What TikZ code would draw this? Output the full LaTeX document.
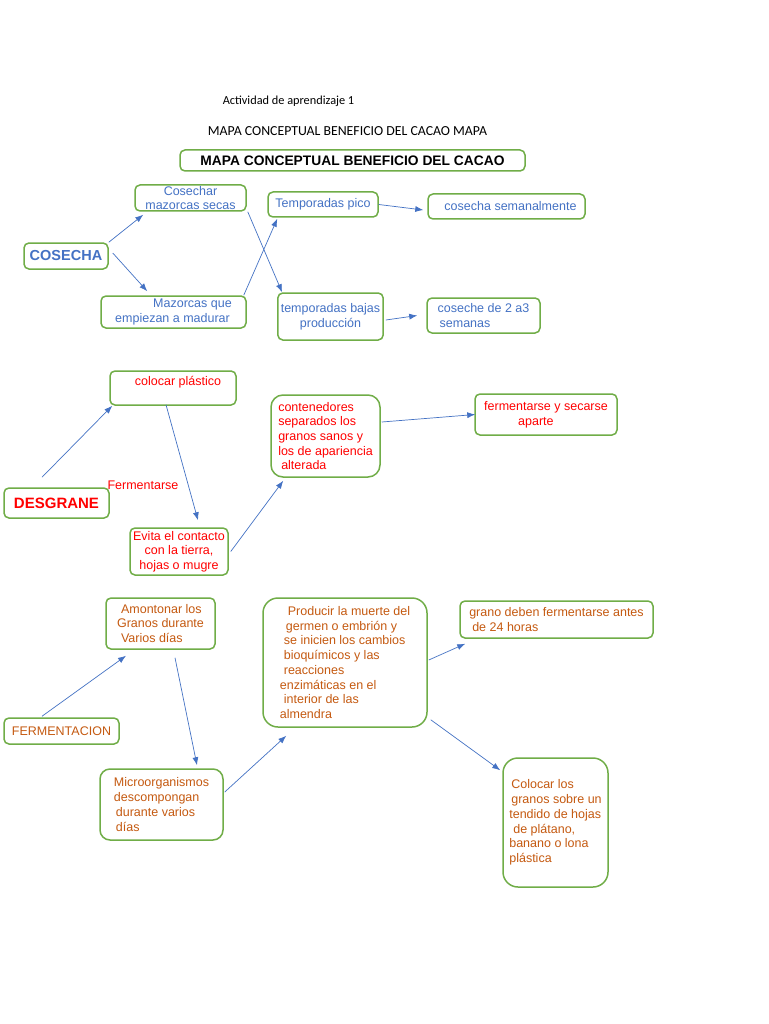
\documentclass[tikz,border=0pt]{standalone}
\usepackage{fontspec}
\setmainfont{Liberation Sans}
\newfontfamily\calibri{Carlito}
\usetikzlibrary{arrows.meta, positioning}

\definecolor{verde}{HTML}{70AD47}
\definecolor{azul}{HTML}{4472C4}
\definecolor{rojo}{HTML}{FF0000}
\definecolor{naranja}{HTML}{C55A11}

\newcommand{\fs}{\fontsize{12.5}{14.7}\selectfont}

\begin{document}
\begin{tikzpicture}[x=1pt, y=-1pt,
        concepto/.style={draw=verde, line width=1.5pt, rounded corners=5pt,
                         inner xsep=3pt, inner ysep=1pt, align=left, font=\fs},
        flecha/.style={-{Latex[length=8pt,width=6pt]}, azul, line width=0.7pt}
    ]
    \useasboundingbox[fill=white] (0,0) rectangle (768,1024);

    % encabezado
    \node[font=\calibri\fontsize{12.3}{14}\selectfont] (actividad) at (288.5,101) {Actividad de aprendizaje 1};
    \node[font=\calibri\fontsize{13.8}{16}\selectfont] (subtitulo) at (347.5,131) {MAPA CONCEPTUAL BENEFICIO DEL CACAO MAPA};
    \node[concepto, minimum width=345, minimum height=21, font=\fontsize{13.8}{15}\selectfont\bfseries] (titulo) at (352.5,160.5) {MAPA CONCEPTUAL BENEFICIO DEL CACAO};

    % cosecha
    \node[concepto, azul, draw=verde, minimum width=84, minimum height=26, font=\fontsize{14.5}{16}\selectfont\bfseries] (cosecha) at (66,256) {COSECHA};
    \node[concepto, text=azul, align=center, minimum width=111, minimum height=26, font=\fontsize{12.5}{14}\selectfont] (secas) at (190.5,198) {Cosechar\\mazorcas secas};
    \node[concepto, text=azul, minimum width=145, minimum height=32] (madurar) at (173.5,312) {\hspace*{38pt}Mazorcas que\\empiezan a madurar};
    \node[concepto, text=azul, minimum width=110, minimum height=25] (pico) at (323,204.5) {Temporadas pico};
    \node[concepto, text=azul, align=center, minimum width=105, minimum height=47] (bajas) at (330.5,316.5) {temporadas bajas\\producción};
    \node[concepto, text=azul, minimum width=157, minimum height=25] (semanal) at (506.5,206.5) {\hspace*{8pt}cosecha semanalmente};
    \node[concepto, text=azul, minimum width=113, minimum height=35] (semanas) at (483.5,315.5) {coseche de 2 a3\\\hspace*{2pt}semanas};

    \draw[flecha] (cosecha.north east) -- ([xshift=9pt,yshift=-3pt]secas.south west);
    \draw[flecha] ([xshift=4pt,yshift=3pt]cosecha.east) -- ([xshift=47pt,yshift=4pt]madurar.north west);
    \draw[flecha] ([xshift=1pt]secas.south east) -- ([xshift=5pt]bajas.north west);
    \draw[flecha] ([xshift=-3pt]madurar.north east) -- ([xshift=10pt,yshift=-1pt]pico.south west);
    \draw[flecha] (pico.east) -- ([xshift=-4pt,yshift=-3.5pt]semanal.west);
    \draw[flecha] ([xshift=2pt,yshift=-3.5pt]bajas.east) -- ([xshift=-9pt]semanas.west);

    % desgrane
    \node[concepto, text=rojo, minimum width=126, minimum height=34] (plastico) at (173,388) {\hspace*{10pt}colocar plástico\\\mbox{}};
    \node[concepto, text=rojo, minimum width=105, minimum height=30, font=\fontsize{15}{17}\selectfont\bfseries] (desgrane) at (56.5,503) {DESGRANE};
    \node[text=rojo, font=\fs, inner sep=0pt] (fermentarse) at (143,485) {Fermentarse};
    \node[concepto, text=rojo, align=center, minimum width=98, minimum height=47] (evita) at (179,551.5) {Evita el contacto\\con la tierra,\\hojas o mugre};
    \node[concepto, text=rojo, rounded corners=12pt, minimum width=109, minimum height=82] (contenedores) at (325.5,436) {contenedores\\separados los\\granos sanos y\\los de apariencia\\\hspace*{3pt}alterada};
    \node[concepto, text=rojo, minimum width=142, minimum height=41] (secarse) at (546,414.5) {fermentarse y secarse\\\hspace*{34pt}aparte};

    \draw[flecha] ([xshift=-14.5pt,yshift=10pt]desgrane.north) -- ([xshift=3pt]plastico.south west);
    \draw[flecha] ([xshift=-7pt,yshift=1pt]plastico.south) -- ([xshift=19pt,yshift=7pt]evita.north);
    \draw[flecha] ([xshift=2pt]evita.east) -- ([xshift=13pt,yshift=-3pt]contenedores.south west);
    \draw[flecha] ([xshift=1pt,yshift=14pt]contenedores.east) -- ([xshift=1pt]secarse.west);

    % fermentacion
    \node[concepto, text=naranja, minimum width=109, minimum height=51] (amontonar) at (160.5,623.5) {\hspace*{4pt}Amontonar los\\Granos durante\\\hspace*{4pt}Varios días};
    \node[concepto, text=naranja, minimum width=115, minimum height=26] (fermentacion) at (61.5,731) {FERMENTACION};
    \node[concepto, text=naranja, rounded corners=10pt, minimum width=123, minimum height=71] (micro) at (161.5,804.5) {Microorganismos\\descompongan\\\hspace*{2pt}durante varios\\\hspace*{2pt}días};
    \node[concepto, text=naranja, rounded corners=15pt, minimum width=164, minimum height=129] (producir) at (345,662.5) {\hspace*{8pt}Producir la muerte del\\\hspace*{6pt}germen o embrión y\\\hspace*{4pt}se inicien los cambios\\\hspace*{4pt}bioquímicos y las\\\hspace*{4pt}reacciones\\enzimáticas en el\\\hspace*{4pt}interior de las\\almendra};
    \node[concepto, text=naranja, minimum width=193, minimum height=37] (grano) at (556.5,619.5) {grano deben fermentarse antes\\\hspace*{3pt}de 24 horas};
    \node[concepto, text=naranja, rounded corners=15pt, minimum width=105, minimum height=129] (colocar) at (555.5,822.5) {\hspace*{2pt}Colocar los\\\hspace*{2pt}granos sobre un\\tendido de hojas\\\hspace*{4pt}de plátano,\\banano o lona\\plástica};

    \draw[flecha] ([xshift=-19.5pt,yshift=1pt]fermentacion.north) -- ([xshift=-34.5pt,yshift=-6pt]amontonar.south);
    \draw[flecha] ([xshift=14.5pt,yshift=-8pt]amontonar.south) -- ([xshift=35.5pt,yshift=3pt]micro.north);
    \draw[flecha] ([xshift=1pt,yshift=12.5pt]micro.east) -- ([xshift=24pt,yshift=-8pt]producir.south west);
    \draw[flecha] ([xshift=1pt,yshift=2.5pt]producir.east) -- ([xshift=6pt,yshift=-5pt]grano.south west);
    \draw[flecha] ([xshift=3pt,yshift=8pt]producir.south east) -- ([xshift=-2pt,yshift=-13pt]colocar.north west);
\end{tikzpicture}
\end{document}
